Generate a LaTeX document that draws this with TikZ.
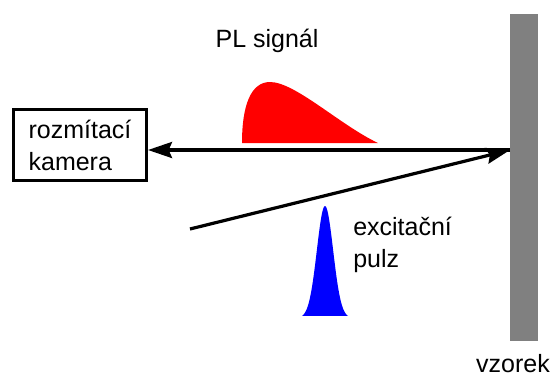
\documentclass[tikz,border=0pt]{standalone}
\usepackage{fontspec}
\setmainfont{Liberation Sans}
\usetikzlibrary{arrows.meta}
\definecolor{smp}{HTML}{808080}
\begin{document}
\begin{tikzpicture}[x=0.75pt,y=-0.75pt,
  lbl/.style={font=\fontsize{18.75}{24}\selectfont, align=left, inner sep=0pt},
  beam/.style={line width=2.4pt, -{Stealth[length=18pt,width=12pt,inset=2.5pt]}},
  cambox/.style={draw, line width=2.25pt, minimum width=99.75pt, minimum height=53.25pt, inner sep=0pt}]
\useasboundingbox (0,0) rectangle (554,376);
\node[fill=smp, minimum width=21pt, minimum height=245.25pt, inner sep=0pt, anchor=north west] (sample) at (510,14) {};
\node[cambox, lbl] (camera) at (80,145) {rozmítací\\kamera};
\coordinate (r1) at (510,150);
\coordinate (e0) at (190,229);
\draw[beam] (r1) -- (camera.east |- r1);
\draw[beam] (e0) -- (r1);
\fill[red] (242,143) .. controls (242,105) and (251,82) .. (270,82) .. controls (295,82) and (340,125) .. (378,143) -- cycle;
\fill[blue] plot[domain=-23:23, samples=80, smooth] ({325+\x},{318-112*exp(-\x*\x/132)}) -- cycle;
\node[lbl, anchor=base] (pl) at (267,47) {PL signál};
\node[lbl, anchor=base west] (exc) at (353,267) {excitační\\pulz};
\node[lbl, anchor=base] (vz) at (513,372) {vzorek};
\end{tikzpicture}
\end{document}
